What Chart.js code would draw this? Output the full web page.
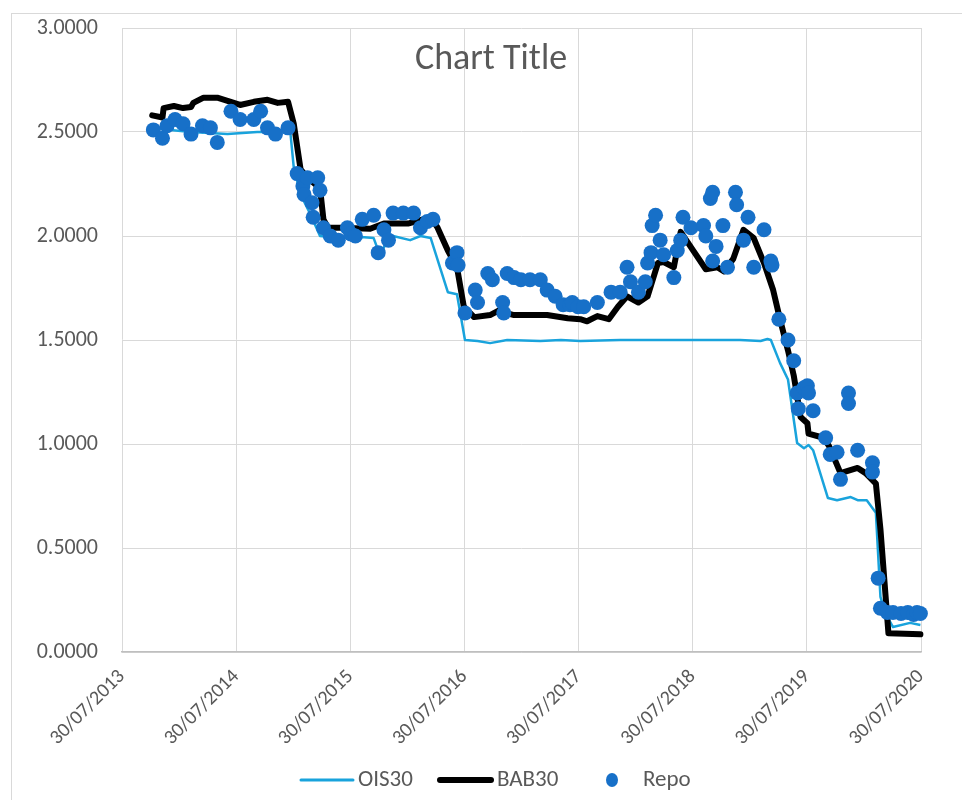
<!DOCTYPE html>
<html>
<head>
<meta charset="utf-8">
<script src="https://cdn.jsdelivr.net/npm/chart.js@4.4.1/dist/chart.umd.min.js"></script>
<style>
  html, body { margin: 0; padding: 0; background: #fff; }
  #wrap { width: 962px; height: 800px; }
</style>
</head>
<body>
<div id="wrap"><canvas id="c" width="962" height="800"></canvas></div>
<script>
// ==================== DATA ====================
// x values are decimal years, y values are rates
const tickValues = [2013.5753, 2014.5753, 2015.5753, 2016.5753, 2017.5753, 2018.5753, 2019.5753, 2020.5753];
const tickLabels = ['30/07/2013', '30/07/2014', '30/07/2015', '30/07/2016', '30/07/2017', '30/07/2018', '30/07/2019', '30/07/2020'];

const oisX = [2013.84, 2014.00, 2014.18, 2014.50, 2014.76, 2015.05, 2015.08, 2015.14, 2015.23, 2015.31,
  2015.49, 2015.67, 2015.78, 2015.84, 2015.88, 2015.95, 2016.10, 2016.19, 2016.28, 2016.43,
  2016.51, 2016.58, 2016.69, 2016.80, 2016.95, 2017.24, 2017.42, 2017.59, 2017.94, 2018.21,
  2018.64, 2018.99, 2019.17, 2019.23, 2019.26, 2019.34, 2019.41, 2019.49, 2019.55, 2019.59,
  2019.63, 2019.76, 2019.84, 2019.96, 2020.02, 2020.10, 2020.18, 2020.22, 2020.26, 2020.33,
  2020.48, 2020.57];
const oisY = [2.52, 2.51, 2.50, 2.49, 2.50, 2.50, 2.33, 2.20, 2.10, 2.00,
  1.99, 1.995, 1.99, 1.90, 1.96, 2.00, 1.98, 2.00, 1.99, 1.73,
  1.72, 1.50, 1.495, 1.485, 1.50, 1.495, 1.50, 1.495, 1.50, 1.50,
  1.50, 1.50, 1.495, 1.505, 1.50, 1.39, 1.31, 1.005, 0.98, 0.995,
  0.97, 0.74, 0.73, 0.745, 0.73, 0.73, 0.67, 0.265, 0.19, 0.12,
  0.14, 0.13];

const babX = [2013.84, 2013.93, 2013.94, 2014.03, 2014.11, 2014.18, 2014.20, 2014.29, 2014.41, 2014.50,
  2014.61, 2014.73, 2014.85, 2014.94, 2015.03, 2015.08, 2015.14, 2015.20, 2015.31, 2015.34,
  2015.38, 2015.49, 2015.75, 2015.87, 2016.08, 2016.28, 2016.34, 2016.43, 2016.51, 2016.57,
  2016.66, 2016.80, 2016.87, 2017.01, 2017.30, 2017.48, 2017.59, 2017.65, 2017.74, 2017.84,
  2017.92, 2018.00, 2018.10, 2018.18, 2018.27, 2018.32, 2018.41, 2018.47, 2018.58, 2018.69,
  2018.79, 2018.85, 2018.93, 2019.02, 2019.11, 2019.20, 2019.28, 2019.34, 2019.41, 2019.46,
  2019.52, 2019.58, 2019.59, 2019.72, 2019.77, 2019.87, 2020.02, 2020.09, 2020.18, 2020.22,
  2020.29, 2020.57];
const babY = [2.58, 2.57, 2.615, 2.625, 2.615, 2.62, 2.64, 2.665, 2.665, 2.65,
  2.63, 2.645, 2.655, 2.64, 2.645, 2.54, 2.32, 2.28, 2.23, 2.08,
  2.04, 2.04, 2.035, 2.06, 2.06, 2.09, 2.04, 1.93, 1.85, 1.66,
  1.61, 1.62, 1.64, 1.62, 1.62, 1.605, 1.60, 1.59, 1.615, 1.60,
  1.66, 1.71, 1.68, 1.71, 1.87, 1.875, 1.85, 2.02, 1.93, 1.84,
  1.85, 1.83, 1.89, 2.03, 1.99, 1.87, 1.74, 1.60, 1.45, 1.33,
  1.13, 1.10, 1.05, 1.03, 0.99, 0.86, 0.885, 0.86, 0.81, 0.59,
  0.09, 0.085];

const repoX = [2013.85, 2013.93, 2013.97, 2014.04, 2014.11, 2014.18, 2014.28, 2014.35, 2014.41, 2014.53,
  2014.61, 2014.73, 2014.79, 2014.85, 2014.92, 2015.03, 2015.11, 2015.16, 2015.17, 2015.20,
  2015.24, 2015.25, 2015.29, 2015.31, 2015.34, 2015.40, 2015.47, 2015.55, 2015.58, 2015.62,
  2015.68, 2015.78, 2015.82, 2015.87, 2015.91, 2015.95, 2016.04, 2016.13, 2016.19, 2016.25,
  2016.30, 2016.47, 2016.51, 2016.52, 2016.58, 2016.67, 2016.69, 2016.78, 2016.82, 2016.91,
  2016.92, 2016.95, 2017.01, 2017.07, 2017.15, 2017.24, 2017.30, 2017.37, 2017.44, 2017.50,
  2017.52, 2017.57, 2017.62, 2017.74, 2017.86, 2017.94, 2018.00, 2018.03, 2018.10, 2018.16,
  2018.18, 2018.21, 2018.22, 2018.25, 2018.29, 2018.32, 2018.41, 2018.44, 2018.47, 2018.49,
  2018.56, 2018.67, 2018.69, 2018.73, 2018.75, 2018.75, 2018.78, 2018.84, 2018.88, 2018.95,
  2018.96, 2019.02, 2019.06, 2019.11, 2019.20, 2019.26, 2019.27, 2019.33, 2019.41, 2019.46,
  2019.49, 2019.50, 2019.55, 2019.58, 2019.59, 2019.63, 2019.74, 2019.78, 2019.84, 2019.87,
  2019.94, 2019.94, 2020.02, 2020.15, 2020.15, 2020.20, 2020.22, 2020.28, 2020.33, 2020.40,
  2020.46, 2020.51, 2020.54, 2020.57];
const repoY = [2.51, 2.47, 2.53, 2.56, 2.54, 2.49, 2.53, 2.52, 2.45, 2.60,
  2.56, 2.56, 2.60, 2.52, 2.49, 2.52, 2.30, 2.24, 2.20, 2.28,
  2.16, 2.09, 2.28, 2.22, 2.04, 2.00, 1.98, 2.04, 2.01, 2.00,
  2.08, 2.10, 1.92, 2.03, 1.98, 2.11, 2.11, 2.11, 2.04, 2.07,
  2.08, 1.87, 1.92, 1.86, 1.63, 1.74, 1.68, 1.82, 1.79, 1.68,
  1.63, 1.82, 1.80, 1.79, 1.79, 1.79, 1.74, 1.71, 1.67, 1.67,
  1.68, 1.66, 1.66, 1.68, 1.73, 1.73, 1.85, 1.78, 1.73, 1.78,
  1.87, 1.92, 2.05, 2.10, 1.98, 1.91, 1.80, 1.93, 1.98, 2.09,
  2.04, 2.05, 2.00, 2.18, 2.21, 1.88, 1.95, 2.05, 1.85, 2.21,
  2.15, 1.98, 2.09, 1.85, 2.03, 1.88, 1.86, 1.60, 1.50, 1.40,
  1.245, 1.17, 1.27, 1.28, 1.245, 1.16, 1.03, 0.95, 0.96, 0.83,
  1.245, 1.195, 0.97, 0.91, 0.865, 0.355, 0.21, 0.19, 0.19, 0.185,
  0.19, 0.18, 0.19, 0.185];

// ==================== STYLE ====================
const FONT = 'Carlito, Calibri, "Open Sans", sans-serif';
const TEXT = '#595959';
const GRID = '#d9d9d9';
const OIS_COLOR = '#19a3dc';
const BAB_COLOR = '#000000';
const REPO_COLOR = '#1770c8';

const pts = (xs, ys) => xs.map((x, i) => ({ x, y: ys[i] }));

// frame, title and legend drawn like the spreadsheet chart
const decor = {
  id: 'decor',
  beforeDraw(chart) {
    const ctx = chart.ctx;
    ctx.save();
    ctx.fillStyle = '#fff';
    ctx.fillRect(0, 0, chart.width, chart.height);
    ctx.strokeStyle = GRID;
    ctx.lineWidth = 1;
    ctx.strokeRect(11.5, 13.5, chart.width, chart.height);
    ctx.restore();
  },
  afterDraw(chart) {
    const ctx = chart.ctx;
    ctx.save();
    // title sits inside the plot area
    ctx.fillStyle = TEXT;
    ctx.font = '36px ' + FONT;
    ctx.textAlign = 'center';
    ctx.textBaseline = 'middle';
    ctx.fillText('Chart Title', 491, 60);

    // legend
    const ly = 780;
    const ds = chart.data.datasets;
    ctx.font = '23px ' + FONT;
    ctx.textAlign = 'left';
    ctx.lineCap = 'round';
    let x = 301;
    ctx.strokeStyle = ds[0].borderColor;
    ctx.lineWidth = 3;
    ctx.beginPath(); ctx.moveTo(x, ly); ctx.lineTo(x + 52, ly); ctx.stroke();
    ctx.fillText(ds[0].label, x + 57, ly);
    x = 440;
    ctx.strokeStyle = ds[1].borderColor;
    ctx.lineWidth = 6;
    ctx.beginPath(); ctx.moveTo(x, ly); ctx.lineTo(x + 51, ly); ctx.stroke();
    ctx.fillText(ds[1].label, x + 57, ly);
    x = 612;
    ctx.fillStyle = ds[2].backgroundColor;
    ctx.beginPath(); ctx.ellipse(x, ly, 6, 7, 0, 0, Math.PI * 2); ctx.fill();
    ctx.fillStyle = TEXT;
    ctx.fillText(ds[2].label, x + 31, ly);
    ctx.restore();
  },
};

new Chart(document.getElementById('c'), {
  type: 'scatter',
  data: {
    datasets: [
      {
        label: 'OIS30',
        data: pts(oisX, oisY),
        showLine: true,
        borderColor: OIS_COLOR,
        backgroundColor: OIS_COLOR,
        borderWidth: 2.5,
        pointRadius: 0,
        borderJoinStyle: 'round',
        order: 3,
        clip: false,
      },
      {
        label: 'BAB30',
        data: pts(babX, babY),
        showLine: true,
        borderColor: BAB_COLOR,
        backgroundColor: BAB_COLOR,
        borderWidth: 6,
        pointRadius: 0,
        borderJoinStyle: 'round',
        borderCapStyle: 'round',
        order: 2,
        clip: false,
      },
      {
        label: 'Repo',
        data: pts(repoX, repoY),
        showLine: false,
        backgroundColor: REPO_COLOR,
        borderColor: REPO_COLOR,
        borderWidth: 0,
        pointRadius: 7.5,
        order: 1,
        clip: false,
      },
    ],
  },
  options: {
    responsive: false,
    devicePixelRatio: 1,
    animation: false,
    layout: { padding: { left: 0, top: 28, right: 41, bottom: 0 } },
    plugins: {
      legend: { display: false },
      title: { display: false },
      tooltip: { enabled: false },
    },
    scales: {
      x: {
        type: 'linear',
        min: tickValues[0],
        max: tickValues[tickValues.length - 1],
        afterBuildTicks: (scale) => {
          scale.ticks = tickValues.map((v) => ({ value: v }));
        },
        afterFit: (scale) => { scale.height = 148; },
        ticks: {
          autoSkip: false,
          minRotation: 45,
          maxRotation: 45,
          padding: 13,
          color: TEXT,
          font: { family: FONT, size: 20 },
          callback: (v, i) => tickLabels[i],
        },
        grid: { color: GRID, lineWidth: 1, drawTicks: false },
        border: { color: '#bfbfbf', width: 1.5 },
      },
      y: {
        min: 0,
        max: 3,
        afterFit: (scale) => {
          scale.width = 122;
          // the tick padding must not push the plot area down
          scale.paddingTop = 0;
          scale.paddingBottom = 0;
        },
        ticks: {
          stepSize: 0.5,
          padding: 24,
          color: TEXT,
          font: { family: FONT, size: 22 },
          callback: (v) => Number(v).toFixed(4),
        },
        grid: { color: GRID, lineWidth: 1, drawTicks: false },
        border: { display: false },
      },
    },
  },
  plugins: [decor],
});
</script>
</body>
</html>
